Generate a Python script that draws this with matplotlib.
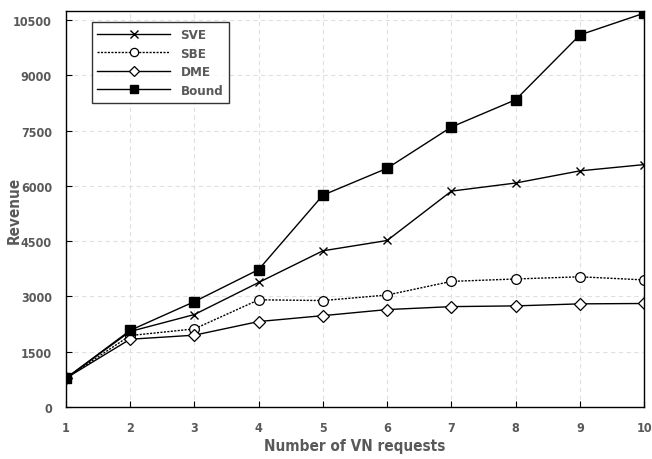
import matplotlib
matplotlib.use("Agg")
import matplotlib.pyplot as plt

# Data
requests = [1, 2, 3, 4, 5, 6, 7, 8, 9, 10]
sve = [780, 2050, 2510, 3380, 4240, 4520, 5860, 6080, 6410, 6580]
sbe = [780, 1940, 2120, 2910, 2890, 3040, 3410, 3475, 3535, 3450]
dme = [780, 1840, 1950, 2320, 2480, 2645, 2725, 2745, 2800, 2810]
bound = [780, 2080, 2860, 3730, 5750, 6480, 7600, 8340, 10100, 10690]
yticks = [0, 1500, 3000, 4500, 6000, 7500, 9000, 10500]

TEXT = "#595959"
plt.rcParams["font.family"] = "DejaVu Sans"
plt.rcParams["font.stretch"] = "condensed"

fig = plt.figure(figsize=(6.52, 4.6), dpi=100)
ax = fig.add_axes([0.101, 0.113, 0.887, 0.861])

ax.plot(requests, sve, color="black", lw=1, marker="x", ms=6, mew=1,
        label="SVE")
ax.plot(requests, sbe, color="black", lw=1, ls=(0, (1.5, 1)), marker="o",
        ms=7, mfc="white", mew=0.9, label="SBE")
ax.plot(requests, dme, color="black", lw=1, marker="D", ms=6, mfc="white",
        mew=0.9, label="DME")
ax.plot(requests, bound, color="black", lw=1, marker="s", ms=7.5,
        label="Bound")

ax.set_xlim(1, 10)
ax.set_ylim(0, 10750)
ax.set_xticks(requests)
ax.set_yticks(yticks)
ax.grid(True, color="#e0e0e0", ls=(0, (4, 3)), lw=0.8)
ax.set_axisbelow(True)
ax.tick_params(direction="in", length=4, colors="black", labelcolor=TEXT,
               labelsize=9, pad=10)
for lab in ax.get_xticklabels() + ax.get_yticklabels():
    lab.set_fontweight("bold")
for sp in ax.spines.values():
    sp.set_linewidth(1.0)

ax.set_xlabel("Number of VN requests", fontsize=11, fontweight="bold",
              color=TEXT)
ax.set_ylabel("Revenue", fontsize=11, fontweight="bold", color=TEXT)
ax.xaxis.set_label_coords(0.5, -0.078)
ax.yaxis.set_label_coords(-0.076, 0.5)

leg = ax.legend(loc="upper left", bbox_to_anchor=(0.033, 0.988), frameon=True,
                fancybox=False, edgecolor="black", handlelength=5.5,
                borderpad=0.45, labelspacing=0.42, handletextpad=0.8,
                markerscale=0.85, prop={"weight": "bold", "size": 9.5})
leg.get_frame().set_linewidth(1.0)
for t in leg.get_texts():
    t.set_color(TEXT)

fig.savefig("out.png", dpi=100)
